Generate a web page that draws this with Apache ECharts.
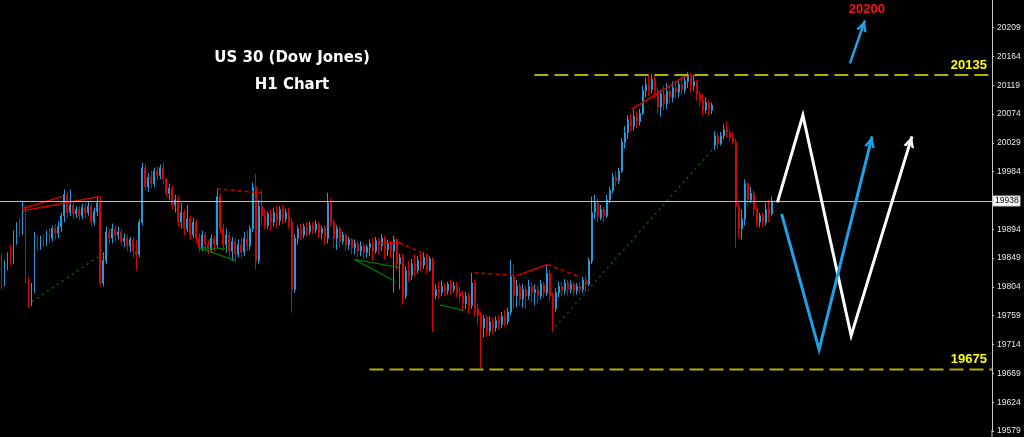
<!DOCTYPE html>
<html><head><meta charset="utf-8">
<script src="https://cdn.jsdelivr.net/npm/echarts@6/dist/echarts.min.js"></script>
<style>html,body{margin:0;padding:0;background:#000;}#c{width:1024px;height:437px;}</style>
</head><body><div id="c"></div>
<script>
// ---- DATA (price values) ----
// [open, close, low, high] per H1 bar
const ohlc = [
[19850,19810,19800,19856],[19810,19838,19805,19845],[19838,19850,19830,19858],[19850,19845,19838,19870],
[19845,19880,19840,19892],[19880,19898,19870,19905],[19898,19890,19882,19912],[19890,19928,19885,19938],
[19928,19815,19810,19932],[19815,19780,19772,19820],[19780,19800,19774,19810],[19800,19880,19795,19890],
[19880,19868,19860,19885],[19868,19878,19862,19884],[19878,19873,19866,19886],[19873,19886,19868,19892],
[19886,19880,19872,19896],[19880,19895,19875,19900],[19895,19888,19878,19902],[19888,19898,19880,19906],
[19898,19915,19890,19920],[19915,19948,19905,19956],[19948,19920,19912,19952],[19920,19932,19915,19956],
[19932,19918,19910,19936],[19918,19925,19912,19930],[19925,19915,19908,19930],[19915,19928,19910,19934],
[19928,19920,19912,19935],[19920,19930,19915,19938],[19930,19905,19898,19935],[19905,19922,19900,19928],
[19922,19935,19915,19945],[19935,19810,19805,19945],[19810,19845,19805,19858],[19845,19890,19840,19898],
[19890,19880,19870,19895],[19880,19895,19872,19903],[19895,19885,19875,19900],[19885,19890,19878,19898],
[19890,19875,19868,19895],[19875,19880,19866,19888],[19880,19868,19860,19886],[19868,19878,19858,19882],
[19878,19860,19850,19882],[19860,19855,19830,19878],[19855,19905,19850,19910],[19905,19990,19900,19998],
[19990,19960,19955,19996],[19960,19975,19952,19982],[19975,19965,19958,19985],[19965,19985,19960,19990],
[19985,19978,19970,19992],[19978,19990,19972,19995],[19990,19972,19965,19998],[19972,19950,19945,19975],
[19950,19958,19940,19965],[19958,19932,19925,19962],[19932,19940,19920,19948],[19940,19905,19898,19946],
[19905,19920,19895,19935],[19920,19895,19885,19925],[19895,19910,19890,19932],[19910,19885,19878,19915],
[19885,19905,19880,19912],[19905,19880,19872,19910],[19880,19865,19858,19888],[19865,19885,19860,19892],
[19885,19870,19862,19890],[19870,19862,19855,19878],[19862,19880,19858,19886],[19880,19870,19860,19885],
[19870,19945,19865,19958],[19945,19895,19888,19950],[19895,19870,19860,19902],[19870,19885,19858,19895],
[19885,19860,19850,19890],[19860,19875,19845,19882],[19875,19855,19842,19880],[19855,19870,19850,19878],
[19870,19858,19848,19882],[19858,19880,19852,19890],[19880,19868,19860,19892],[19868,19895,19862,19900],
[19895,19960,19890,19967],[19960,19845,19831,19980],[19845,19930,19840,19940],[19930,19915,19900,19955],
[19915,19900,19895,19925],[19900,19918,19895,19922],[19918,19905,19892,19925],[19905,19920,19898,19928],
[19920,19908,19896,19930],[19908,19925,19900,19930],[19925,19910,19902,19932],[19910,19920,19905,19926],
[19920,19905,19895,19928],[19905,19800,19764,19912],[19800,19880,19795,19886],[19880,19895,19870,19900],
[19895,19885,19878,19902],[19885,19898,19880,19903],[19898,19890,19883,19905],[19890,19900,19885,19906],
[19900,19893,19886,19905],[19893,19902,19888,19908],[19902,19888,19880,19906],[19888,19895,19878,19900],
[19895,19880,19870,19900],[19880,19935,19872,19951],[19935,19905,19898,19942],[19905,19880,19865,19910],
[19880,19895,19862,19900],[19895,19875,19866,19898],[19875,19885,19870,19890],[19885,19870,19860,19888],
[19870,19878,19862,19882],[19878,19865,19855,19880],[19865,19872,19855,19878],[19872,19860,19850,19876],
[19860,19868,19852,19875],[19868,19858,19848,19872],[19858,19866,19850,19870],[19866,19872,19852,19878],
[19872,19860,19845,19880],[19860,19876,19856,19882],[19876,19868,19855,19880],[19868,19880,19860,19886],
[19880,19862,19846,19884],[19862,19872,19852,19878],[19872,19860,19850,19876],[19860,19878,19795,19884],
[19878,19840,19830,19880],[19840,19850,19800,19856],[19850,19790,19776,19855],[19790,19830,19785,19836],
[19830,19822,19812,19845],[19822,19840,19815,19848],[19840,19830,19820,19855],[19830,19845,19825,19852],
[19845,19838,19828,19856],[19838,19850,19832,19858],[19850,19830,19825,19855],[19830,19848,19828,19852],
[19848,19790,19734,19850],[19790,19800,19785,19808],[19800,19795,19786,19812],[19795,19805,19790,19814],
[19805,19798,19790,19810],[19798,19808,19792,19812],[19808,19800,19792,19815],[19800,19806,19795,19812],
[19806,19795,19788,19812],[19795,19790,19780,19805],[19790,19778,19768,19798],[19778,19790,19770,19796],
[19790,19775,19762,19795],[19775,19810,19770,19826],[19810,19770,19758,19815],[19770,19760,19745,19778],
[19760,19740,19678,19765],[19740,19755,19725,19760],[19755,19735,19726,19760],[19735,19750,19728,19758],
[19750,19740,19730,19756],[19740,19752,19734,19758],[19752,19745,19737,19760],[19745,19758,19740,19765],
[19758,19750,19742,19768],[19750,19765,19745,19772],[19765,19820,19760,19846],[19820,19790,19770,19840],
[19790,19805,19772,19815],[19805,19785,19775,19810],[19785,19800,19772,19808],[19800,19790,19770,19806],
[19790,19805,19784,19815],[19805,19795,19780,19812],[19795,19800,19775,19808],[19800,19790,19778,19806],
[19790,19808,19785,19815],[19808,19795,19786,19812],[19795,19825,19790,19839],[19825,19790,19782,19830],
[19790,19770,19734,19795],[19770,19795,19765,19802],[19795,19805,19788,19812],[19805,19798,19790,19812],
[19798,19810,19792,19816],[19810,19800,19790,19815],[19800,19808,19794,19814],[19808,19798,19790,19812],
[19798,19805,19792,19810],[19805,19800,19794,19812],[19800,19815,19795,19820],[19815,19808,19796,19822],
[19808,19845,19805,19850],[19845,19920,19840,19945],[19920,19935,19910,19948],[19935,19912,19905,19942],
[19912,19925,19908,19932],[19925,19915,19905,19930],[19915,19940,19912,19948],[19940,19955,19935,19960],
[19955,19975,19950,19982],[19975,19970,19962,19985],[19970,19985,19965,19990],[19985,20030,19982,20036],
[20030,20045,20020,20055],[20045,20065,20035,20072],[20065,20055,20047,20075],[20055,20070,20048,20080],
[20070,20062,20052,20078],[20062,20075,20056,20082],[20075,20110,20072,20118],[20110,20120,20100,20130],
[20120,20112,20102,20136],[20112,20128,20106,20136],[20128,20110,20098,20134],[20110,20085,20075,20115],
[20085,20105,20070,20112],[20105,20090,20080,20118],[20090,20110,20082,20122],[20110,20100,20090,20120],
[20100,20115,20092,20125],[20115,20108,20098,20122],[20108,20120,20100,20128],[20120,20112,20104,20132],
[20112,20125,20106,20134],[20125,20135,20115,20139],[20135,20118,20108,20138],[20118,20125,20110,20135],
[20125,20105,20095,20128],[20105,20095,20085,20110],[20095,20080,20072,20105],[20080,20092,20075,20100],
[20092,20080,20072,20096],[20080,20088,20074,20092],[20025,20040,20018,20047],[20040,20028,20020,20045],
[20028,20040,20025,20046],[20040,20050,20035,20058],[20050,20045,20038,20062],[20045,20038,20030,20050],
[20038,20030,20026,20045],[20030,19930,19865,20035],[19930,19895,19880,19935],[19895,19910,19878,19925],
[19910,19965,19900,19972],[19965,19940,19930,19968],[19940,19950,19935,19960],[19950,19925,19915,19955],
[19925,19905,19898,19930],[19905,19915,19897,19920],[19915,19905,19898,19920],[19905,19925,19900,19935],
[19925,19918,19905,19940],[19918,19938,19915,19945]
];
const SLOTS = 331;                       // bar slots across the plot (incl. empty future space)
const categories = Array.from({length: SLOTS}, (_, i) => 'H' + i);
const yTickStart = 19579, yTickStep = 45, yMax = 20252;
const currentPrice = 19938;
const levels = [ {price: 20135, from: 177.8, label: '20135'}, {price: 19675, from: 122.8, label: '19675'} ];
const targetLabel = {price: 20200, text: '20200'};
const titleLines = ['US 30 (Dow Jones)', 'H1 Chart'];
// projection paths: [bar index, price]
const whitePath = [[258.9,19936],[267.4,20072],[283.5,19728],[303.8,20039]];
const bluePath  = [[260.3,19918],[272.8,19706],[290.5,20039]];
const blueArrow = [[283.1,20153],[288.1,20220]];
// indicator lines: [bar index, price]
const redSolidSegs = [
 [[6.8,19926],[20.2,19945]], [[7.2,19923],[32.8,19945]], [[126.2,19872],[132.8,19873]],
 [[172.2,19822],[182.2,19839]], [[210.2,20081],[229.2,20136]]
];
const redDashSegs = [
 [[71.8,19957],[86.8,19951]], [[132.8,19873],[143.5,19851]],
 [[157.8,19826],[172.2,19822]], [[182.2,19839],[192.8,19820]]
];
const greenSolidSegs = [
 [[65.8,19865],[75.2,19864]], [[65.8,19865],[78.2,19845]], [[117.8,19847],[132.8,19834]],
 [[117.8,19847],[131.5,19812]], [[146.2,19776],[154.5,19767]]
];
const greenDotSegs = [ [[10.2,19781],[33.8,19856]], [[184.8,19742],[237.2,20018]] ];

// ---- CHART ----
const chart = echarts.init(document.getElementById('c'), null, {renderer: 'canvas'});
const chevron = 'path://M5,0 L5,0.01 M5,10 L9.8,20 L7.4,20 L5,14.6 L2.6,20 L0.2,20 Z';

function segSeries(points, color, width, type) {
  return {type: 'line', xAxisIndex: 1, yAxisIndex: 0, data: points, symbol: 'none', silent: true,
    animation: false, lineStyle: {color: color, width: width, type: type}, z: 3};
}
function arrowSeries(points, color, width, rot) {
  const data = points.map((p, i) => i === points.length - 1
    ? {value: p, symbol: chevron, symbolSize: [11, 22], symbolRotate: rot || 0, itemStyle: {color: color}}
    : {value: p, symbol: 'none'});
  return {type: 'line', xAxisIndex: 1, yAxisIndex: 0, data: data, symbol: 'none', silent: true,
    animation: false, lineStyle: {color: color, width: width, join: 'miter'}, z: 5};
}

const series = [{
  type: 'candlestick', xAxisIndex: 0, yAxisIndex: 0, data: ohlc, barWidth: 1.4,
  itemStyle: {color: '#1aa0e0', color0: '#c00000', borderColor: '#1aa0e0', borderColor0: '#e00000', borderWidth: 1},
  animation: false, silent: true,
  markLine: {silent: true, symbol: ['none', 'none'], animation: false, label: {show: false},
    lineStyle: {color: '#bebebe', width: 1, type: 'solid'}, data: [{yAxis: currentPrice}]}
}];
redSolidSegs.forEach(s => series.push(segSeries(s, '#d00000', 1.5, 'solid')));
redDashSegs.forEach(s => series.push(segSeries(s, '#c00000', 1.5, [4, 3])));
greenSolidSegs.forEach(s => series.push(segSeries(s, '#007800', 1.2, 'solid')));
greenDotSegs.forEach(s => series.push(segSeries(s, '#006400', 1.5, [2, 4])));
levels.forEach(l => series.push(segSeries([[l.from, l.price], [SLOTS - 0.5, l.price]], '#b0b000', 2, [14, 6])));
const arrowStart = series.length;
const arrowDefs = [[whitePath, '#ffffff', 3], [bluePath, '#1aa3e6', 3], [blueArrow, '#1aa3e6', 2.5]];
arrowDefs.forEach(a => series.push(arrowSeries(a[0], a[1], a[2], 0)));

const option = {
  backgroundColor: '#000000',
  animation: false,
  grid: {left: 0, right: 32, top: 0, bottom: 6, containLabel: false},
  xAxis: [
    {type: 'category', data: categories, boundaryGap: true, show: false},
    {type: 'value', min: -0.5, max: SLOTS - 0.5, show: false}
  ],
  yAxis: [{
    type: 'value', position: 'right', min: yTickStart, max: yMax, interval: yTickStep, scale: true,
    axisLine: {show: true, onZero: false, lineStyle: {color: '#c8c8c8', width: 1}},
    axisTick: {show: true, length: 2, lineStyle: {color: '#c8c8c8'}},
    splitLine: {show: false},
    axisLabel: {color: '#e8e8e8', fontSize: 8.5, fontFamily: 'Liberation Sans', margin: 5,
      showMaxLabel: false, showMinLabel: true,
      formatter: v => (Math.abs(v - currentPrice) < 3 ? '' : String(Math.round(v)))}
  }],
  series: series
};
chart.setOption(option);

// arrowhead rotation from the pixel direction of each path's last segment
function rotFor(idx, pts) {
  const a = chart.convertToPixel({seriesIndex: idx}, pts[pts.length - 2]);
  const b = chart.convertToPixel({seriesIndex: idx}, pts[pts.length - 1]);
  return -Math.atan2(b[0] - a[0], -(b[1] - a[1])) * 180 / Math.PI;
}
const seriesUpd = series.map(() => ({}));
arrowDefs.forEach((a, k) => {
  seriesUpd[arrowStart + k] = {data: arrowSeries(a[0], a[1], a[2], rotFor(arrowStart + k, a[0])).data};
});

const py = v => chart.convertToPixel({seriesIndex: 0}, [0, v])[1];
const px = i => chart.convertToPixel({seriesIndex: arrowStart}, [i, yMax])[0];
const cp = py(currentPrice);
const graphics = [
  {type: 'text', x: 292, y: 58, style: {text: titleLines[0], fill: '#ffffff', font: 'bold 15px "DejaVu Sans"', align: 'center', verticalAlign: 'middle'}},
  {type: 'text', x: 292, y: 85, style: {text: titleLines[1], fill: '#ffffff', font: 'bold 15px "DejaVu Sans"', align: 'center', verticalAlign: 'middle'}},
  {type: 'text', x: px(blueArrow[1][0]) + 2, y: 9, style: {text: targetLabel.text, fill: '#ff1010', font: 'bold 13px "Liberation Sans"', align: 'center', verticalAlign: 'middle'}},
  {type: 'line', shape: {x1: 992, y1: 430, x2: 992, y2: 437}, style: {stroke: '#c8c8c8', lineWidth: 1}},
  {type: 'rect', shape: {x: 993, y: Math.round(cp) - 5, width: 27, height: 10}, style: {fill: '#ffffff', stroke: '#c8c8c8'}},
  {type: 'text', x: 995, y: cp, style: {text: String(currentPrice), fill: '#000000', font: '8.5px "Liberation Sans"', align: 'left', verticalAlign: 'middle'}}
];
levels.forEach(l => graphics.push({type: 'text', x: 987, y: py(l.price) - 10, style: {text: l.label, fill: '#ffff00', font: 'bold 13px "Liberation Sans"', align: 'right', verticalAlign: 'middle'}}));
chart.setOption({series: seriesUpd, graphic: graphics});
</script></body></html>
